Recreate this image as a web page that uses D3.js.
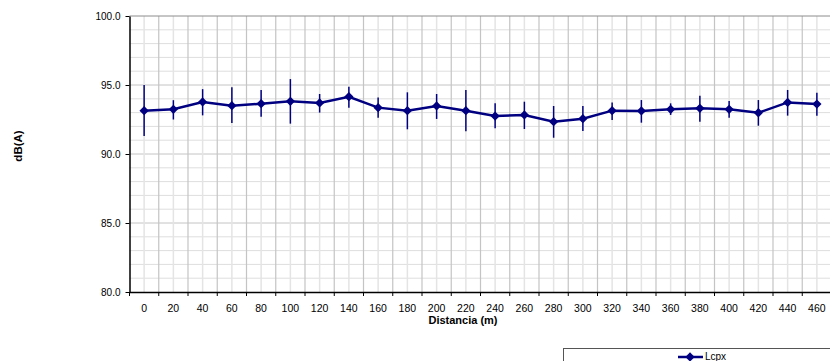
<!DOCTYPE html>
<html>
<head>
<meta charset="utf-8">
<script src="https://cdn.jsdelivr.net/npm/d3@7"></script>
<style>
  body { margin: 0; background: #fff; overflow: hidden; }
  svg { display: block; font-family: "Liberation Sans", Arial, sans-serif; }
</style>
</head>
<body>
<main></main>
<script>
const distances = ['0', '20', '40', '60', '80', '100', '120', '140', '160', '180', '200', '220',
    '240', '260', '280', '300', '320', '340', '360', '380', '400', '420', '440', '460'];
const lcpx = [93.14, 93.24, 93.77, 93.5, 93.65, 93.82, 93.7, 94.15, 93.36, 93.14, 93.48, 93.14,
    92.75, 92.83, 92.34, 92.56, 93.14, 93.12, 93.24, 93.31, 93.24, 92.99, 93.74, 93.62];
const errHigh = [95.0, 93.9, 94.7, 94.83, 94.64, 95.43, 94.35, 94.88, 94.1, 94.47, 94.35, 94.64,
    93.67, 93.79, 93.48, 93.48, 93.74, 93.91, 93.67, 94.22, 93.84, 93.91, 94.64, 94.44];
const errLow = [91.3, 92.5, 92.8, 92.25, 92.7, 92.2, 93.0, 93.36, 92.63, 91.79, 92.54, 91.64,
    91.86, 91.81, 91.18, 91.67, 92.46, 92.27, 92.83, 92.34, 92.63, 92.05, 92.78, 92.78];
const yTicks = [80, 85, 90, 95, 100];

const w = 830;
const h = 361;
const plotL = 129.5, plotR = 831.5, plotT = 16, plotB = 292;
const navy = '#000080';

const svg = d3.select('main').append('svg').attr('width', w).attr('height', h);

const x = d3.scaleBand().domain(distances).range([plotL, plotR]).padding(0);
const y = d3.scaleLinear().domain([80, 100]).range([plotB, plotT]);
const cx = d => x(d) + x.bandwidth() / 2;

// grid
const grid = svg.append('g');
grid.selectAll('.hminor')
    .data(d3.range(81, 100))
    .enter()
    .append('line')
    .attr('x1', plotL).attr('x2', plotR)
    .attr('y1', d => y(d)).attr('y2', d => y(d))
    .attr('stroke', d => d % 5 === 0 ? '#c4c4c4' : '#dedede')
    .attr('stroke-width', 1);
grid.selectAll('.vminor')
    .data(distances)
    .enter()
    .append('line')
    .attr('x1', cx).attr('x2', cx)
    .attr('y1', plotT).attr('y2', plotB)
    .attr('stroke', '#e4e4e4')
    .attr('stroke-width', 1.5);
grid.selectAll('.vmajor')
    .data(distances.slice(1))
    .enter()
    .append('line')
    .attr('x1', d => x(d)).attr('x2', d => x(d))
    .attr('y1', plotT).attr('y2', plotB)
    .attr('stroke', '#c4c4c4')
    .attr('stroke-width', 1.2);
grid.append('line')
    .attr('x1', plotL).attr('x2', plotR)
    .attr('y1', y(100)).attr('y2', y(100))
    .attr('stroke', '#8c8c8c');

// axes
const yAxis = svg.append('g')
    .attr('transform', `translate(${plotL},0)`)
    .call(d3.axisLeft(y).tickValues(yTicks).tickFormat(d3.format('.1f')).tickSize(4).tickPadding(5).tickSizeOuter(0));
yAxis.selectAll('text').attr('font-size', 10).attr('fill', '#000');
yAxis.select('.domain').attr('stroke', '#000').attr('stroke-width', 1.5);
yAxis.selectAll('.tick line').attr('stroke', '#000');

const xAxis = svg.append('g')
    .attr('transform', `translate(0,${plotB})`)
    .call(d3.axisBottom(x).tickSize(0).tickPadding(13).tickSizeOuter(0));
xAxis.selectAll('text').attr('font-size', 10.5).attr('fill', '#000');
xAxis.select('.domain').attr('stroke', '#000').attr('stroke-width', 1.5);
xAxis.selectAll('.bound')
    .data(distances)
    .enter()
    .append('line')
    .attr('x1', d => x(d)).attr('x2', d => x(d))
    .attr('y1', 0).attr('y2', 4)
    .attr('stroke', '#000');
svg.selectAll('g[font-family]').attr('font-family', null).attr('font-size', null);

// error bars
svg.append('g').selectAll('line')
    .data(distances)
    .enter()
    .append('line')
    .attr('x1', cx).attr('x2', cx)
    .attr('y1', (d, i) => y(errHigh[i])).attr('y2', (d, i) => y(errLow[i]))
    .attr('stroke', navy)
    .attr('stroke-width', 1.5);

// series
const line = d3.line()
    .x((d, i) => cx(distances[i]))
    .y(d => y(d));
svg.append('path')
    .datum(lcpx)
    .attr('d', line)
    .attr('fill', 'none')
    .attr('stroke', navy)
    .attr('stroke-width', 2.5);

const diamond = d3.symbol().type(d3.symbolDiamond2).size(55);
svg.append('g').selectAll('path')
    .data(lcpx)
    .enter()
    .append('path')
    .attr('d', diamond)
    .attr('transform', (d, i) => `translate(${cx(distances[i])},${y(d)})`)
    .attr('fill', navy);

// titles
svg.append('text')
    .text('Distancia (m)')
    .attr('x', 463).attr('y', 324)
    .attr('text-anchor', 'middle')
    .attr('font-size', 11)
    .attr('font-weight', 'bold');
svg.append('text')
    .text('dB(A)')
    .attr('transform', 'translate(22,146) rotate(-90)')
    .attr('text-anchor', 'middle')
    .attr('font-size', 11.5)
    .attr('font-weight', 'bold');

// legend
const legend = svg.append('g');
legend.append('rect')
    .attr('x', 563.5).attr('y', 348.5)
    .attr('width', 300).attr('height', 40)
    .attr('fill', '#fff')
    .attr('stroke', '#555');
legend.append('line')
    .attr('x1', 678).attr('x2', 703)
    .attr('y1', 357).attr('y2', 357)
    .attr('stroke', navy).attr('stroke-width', 2.5);
legend.append('path')
    .attr('d', diamond)
    .attr('transform', 'translate(690,357)')
    .attr('fill', navy);
legend.append('text')
    .text('Lcpx')
    .attr('x', 705).attr('y', 360)
    .attr('font-size', 10);
</script>
</body>
</html>
